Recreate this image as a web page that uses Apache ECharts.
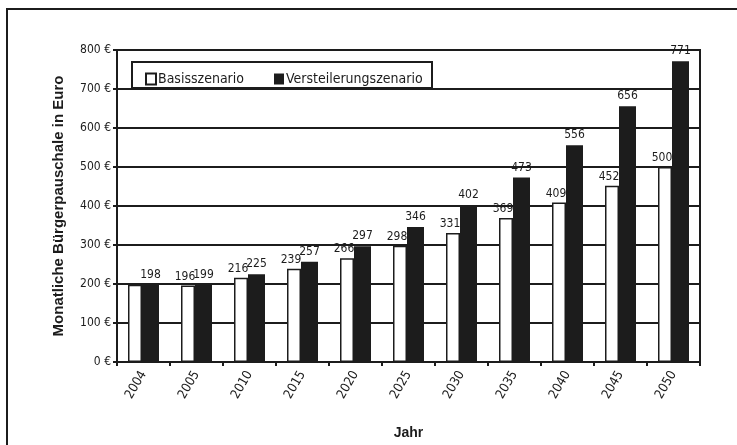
<!DOCTYPE html>
<html>
<head>
<meta charset="utf-8">
<script src="https://cdn.jsdelivr.net/npm/echarts@6/dist/echarts.min.js"></script>
<style>
  html, body { margin: 0; padding: 0; background: #fff; }
  #chart { width: 737px; height: 445px; }
</style>
</head>
<body>
<div id="chart"></div>
<script>
const years = ["2004", "2005", "2010", "2015", "2020", "2025", "2030", "2035", "2040", "2045", "2050"];
const basis = [198, 196, 216, 239, 266, 298, 331, 369, 409, 452, 500];
const versteilerung = [198, 199, 225, 257, 297, 346, 402, 473, 556, 656, 771];

const narrow = "'Liberation Sans Narrow', 'DejaVu Sans Condensed', sans-serif";
const bold = "'Liberation Sans', Arial, sans-serif";
const ink = "#1c1c1c";

const chart = echarts.init(document.getElementById("chart"));
chart.setOption({
  backgroundColor: "#fff",
  animation: false,
  graphic: [
    {
      type: "rect",
      shape: { x: 7, y: 9, width: 760, height: 480 },
      style: { fill: null, stroke: ink, lineWidth: 2 },
      z: -1,
    },
    {
      type: "rect",
      shape: { x: 132, y: 62, width: 300, height: 26 },
      style: { fill: "#fff", stroke: ink, lineWidth: 2 },
      z: 5,
    },
  ],
  legend: {
    left: 140,
    top: 67,
    z: 10,
    icon: "rect",
    itemWidth: 10,
    itemHeight: 11,
    itemGap: 30,
    textStyle: { fontFamily: narrow, fontSize: 14, color: ink, padding: [0, 0, 0, -3] },
    data: ["Basisszenario", "Versteilerungszenario"],
  },
  grid: {
    left: 117,
    right: 37,
    top: 50,
    bottom: 82,
    show: true,
    borderColor: ink,
    borderWidth: 2,
  },
  xAxis: {
    type: "category",
    data: years,
    name: "Jahr",
    nameLocation: "middle",
    nameGap: 64,
    nameTextStyle: { fontFamily: bold, fontWeight: "bold", fontSize: 14, color: ink },
    axisLine: { lineStyle: { color: ink, width: 2 } },
    axisTick: { show: true, length: 4, lineStyle: { color: ink, width: 2 } },
    axisLabel: { rotate: 60, fontFamily: narrow, fontSize: 13, color: ink, margin: 10 },
  },
  yAxis: {
    type: "value",
    min: 0,
    max: 800,
    interval: 100,
    name: "Monatliche Bürgerpauschale in Euro",
    nameLocation: "middle",
    nameGap: 51,
    nameTextStyle: { fontFamily: bold, fontWeight: "bold", fontSize: 15, color: ink },
    axisLine: { show: true, lineStyle: { color: ink, width: 2 } },
    axisTick: { show: true, length: 4, lineStyle: { color: ink, width: 2 } },
    axisLabel: { formatter: "{value} €", fontFamily: narrow, fontSize: 12, color: ink, margin: 6 },
    splitLine: { lineStyle: { color: ink, width: 2 } },
  },
  series: [
    {
      name: "Basisszenario",
      type: "bar",
      data: basis.map((v, i) => (i === 0 ? { value: v, label: { show: false } } : v)),
      barWidth: 14,
      barGap: "0%",
      itemStyle: { color: "#fff", borderColor: ink, borderWidth: 1.5 },
      label: { show: true, position: "top", distance: 3, fontFamily: narrow, fontSize: 12, color: ink, offset: [-3, 0] },
    },
    {
      name: "Versteilerungszenario",
      type: "bar",
      data: versteilerung,
      barWidth: 17,
      itemStyle: { color: ink },
      label: { show: true, position: "top", distance: 4, fontFamily: narrow, fontSize: 12, color: ink },
    },
  ],
});
</script>
</body>
</html>
